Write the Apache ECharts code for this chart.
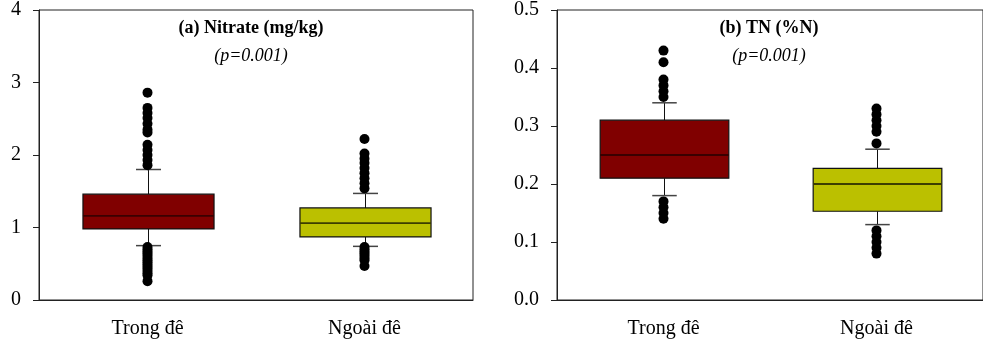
<!DOCTYPE html>
<html><head><meta charset="utf-8">
<script src="https://cdn.jsdelivr.net/npm/echarts@6/dist/echarts.min.js"></script>
<style>html,body{margin:0;padding:0;background:#fff}#c{width:983px;height:342px}</style>
</head><body><div id="c"></div>
<script>
const categories = ['Trong đê', 'Ngoài đê'];
// [min whisker, Q1, median, Q3, max whisker]
const nitrateTrong = [0.75, 0.98, 1.16, 1.46, 1.80];
const nitrateNgoai = [0.74, 0.87, 1.06, 1.27, 1.47];
const nitrateOutTrong = [2.86, 2.65, 2.58, 2.51, 2.43, 2.35, 2.31, 2.14, 2.07, 2.00, 1.93, 1.86,
  0.73, 0.70, 0.67, 0.64, 0.61, 0.58, 0.55, 0.52, 0.49, 0.46, 0.43, 0.40, 0.37, 0.34, 0.26];
const nitrateOutNgoai = [2.22, 2.02, 1.95, 1.89, 1.82, 1.75, 1.68, 1.61, 1.54,
  0.73, 0.70, 0.67, 0.64, 0.61, 0.58, 0.55, 0.47];
const tnTrong = [0.18, 0.21, 0.25, 0.31, 0.34];
const tnNgoai = [0.13, 0.153, 0.20, 0.227, 0.26];
const tnOutTrong = [0.43, 0.41, 0.38, 0.37, 0.36, 0.35, 0.17, 0.16, 0.15, 0.14];
const tnOutNgoai = [0.33, 0.32, 0.31, 0.30, 0.29, 0.27, 0.12, 0.11, 0.10, 0.09, 0.08];
const nitrateTicks = [0, 1, 2, 3, 4];
const tnTicks = [0.0, 0.1, 0.2, 0.3, 0.4, 0.5];
const titles = ['(a) Nitrate (mg/kg)', '(b) TN (%N)'];
const pText = '(p=0.001)';

const fills = ['#800000', '#bbc000'];
const medians = ['#3a0000', '#3c3e00'];
const FONT = '"Liberation Serif", "Times New Roman", serif';

function boxItem(idx, arr) { return [idx].concat(arr); }
function outItems(idx, arr) { return arr.map(v => [idx, v]); }

function renderBox(params, api) {
  const x = api.value(0);
  const vMin = api.coord([x, api.value(1)]);
  const vQ1 = api.coord([x, api.value(2)]);
  const vMed = api.coord([x, api.value(3)]);
  const vQ3 = api.coord([x, api.value(4)]);
  const vMax = api.coord([x, api.value(5)]);
  const band = api.size([1, 0])[0];
  const bw = band * 0.604, cw = band * 0.115;
  const cx = Math.round(vMed[0]) + 0.5;
  const ln = {stroke: '#111', lineWidth: 1};
  return {
    type: 'group',
    children: [
      {type: 'line', shape: {x1: cx, y1: vMax[1], x2: cx, y2: vQ3[1]}, style: ln},
      {type: 'line', shape: {x1: cx, y1: vQ1[1], x2: cx, y2: vMin[1]}, style: ln},
      {type: 'line', shape: {x1: cx - cw / 2, y1: vMax[1], x2: cx + cw / 2, y2: vMax[1]}, style: {stroke: '#444', lineWidth: 1.5}},
      {type: 'line', shape: {x1: cx - cw / 2, y1: vMin[1], x2: cx + cw / 2, y2: vMin[1]}, style: {stroke: '#444', lineWidth: 1.5}},
      {type: 'rect', shape: {x: cx - bw / 2, y: vQ3[1], width: bw, height: vQ1[1] - vQ3[1]},
        style: {fill: fills[x], stroke: '#111', lineWidth: 1.2}},
      {type: 'line', shape: {x1: cx - bw / 2, y1: vMed[1], x2: cx + bw / 2, y2: vMed[1]},
        style: {stroke: medians[x], lineWidth: 1.8}}
    ]
  };
}

const grids = [
  {left: 39, top: 10, width: 434, height: 290, show: true, borderColor: '#222', borderWidth: 1},
  {left: 557, top: 10, width: 434, height: 290, show: true, borderColor: '#222', borderWidth: 1}
];

function xAx(i) {
  return {
    type: 'category', gridIndex: i, data: categories,
    axisLine: {lineStyle: {color: '#222', width: 1}},
    axisTick: {alignWithLabel: true, length: 5, lineStyle: {color: '#222'}},
    axisLabel: {margin: 19, fontFamily: FONT, fontSize: 20, color: '#000'}
  };
}
function yAx(i, max, interval, dec) {
  return {
    type: 'value', gridIndex: i, min: 0, max: max, interval: interval,
    splitLine: {show: false},
    axisLine: {show: true, lineStyle: {color: '#222', width: 1}},
    axisTick: {show: true, length: 6, lineStyle: {color: '#222'}},
    axisLabel: {margin: 18, fontFamily: FONT, fontSize: 20, color: '#000',
      formatter: v => v.toFixed(dec)}
  };
}

const titleStyle = {fontFamily: FONT, fontSize: 18, fontWeight: 'bold', color: '#000'};
const pStyle = {fontFamily: FONT, fontSize: 18, fontStyle: 'italic', fontWeight: 'normal', color: '#000'};

const chart = echarts.init(document.getElementById('c'), null, {renderer: 'canvas'});
chart.setOption({
  animation: false,
  title: [
    {text: titles[0], left: 246, top: 14, textAlign: 'center', textStyle: titleStyle},
    {text: pText, left: 246, top: 42, textAlign: 'center', textStyle: pStyle},
    {text: titles[1], left: 764, top: 14, textAlign: 'center', textStyle: titleStyle},
    {text: pText, left: 764, top: 42, textAlign: 'center', textStyle: pStyle}
  ],
  grid: grids,
  xAxis: [xAx(0), xAx(1)],
  yAxis: [yAx(0, nitrateTicks[nitrateTicks.length - 1], 1, 0), yAx(1, tnTicks[tnTicks.length - 1], 0.1, 1)],
  series: [
    {type: 'custom', xAxisIndex: 0, yAxisIndex: 0, renderItem: renderBox,
      encode: {x: 0, y: [1, 2, 3, 4, 5]},
      data: [boxItem(0, nitrateTrong), boxItem(1, nitrateNgoai)]},
    {type: 'scatter', xAxisIndex: 0, yAxisIndex: 0, symbolSize: 10,
      itemStyle: {color: '#000', opacity: 1},
      data: outItems(0, nitrateOutTrong).concat(outItems(1, nitrateOutNgoai))},
    {type: 'custom', xAxisIndex: 1, yAxisIndex: 1, renderItem: renderBox,
      encode: {x: 0, y: [1, 2, 3, 4, 5]},
      data: [boxItem(0, tnTrong), boxItem(1, tnNgoai)]},
    {type: 'scatter', xAxisIndex: 1, yAxisIndex: 1, symbolSize: 10,
      itemStyle: {color: '#000', opacity: 1},
      data: outItems(0, tnOutTrong).concat(outItems(1, tnOutNgoai))}
  ]
});
</script></body></html>
